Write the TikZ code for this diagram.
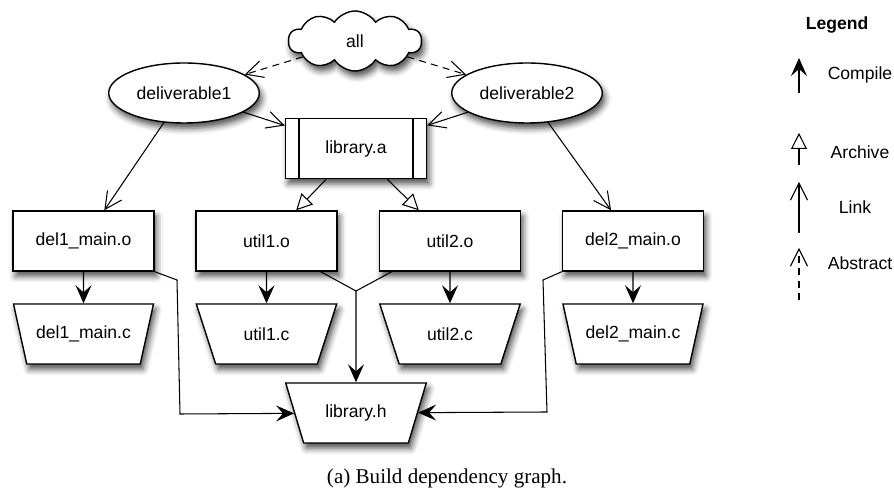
\documentclass[tikz,border=0pt]{standalone}
\usepackage{fontspec}
\setmainfont{Liberation Sans}
\newfontfamily\captionfont{Liberation Serif}
\usetikzlibrary{arrows.meta,shapes.geometric,shapes.symbols,shadows.blur}

\begin{document}
\begin{tikzpicture}[x=0.02cm, y=-0.02cm,
		every node/.style={font=\fontsize{10}{12}\selectfont},
		soft/.style={blur shadow={shadow xshift=1.5pt, shadow yshift=-3pt, shadow blur radius=3.5pt, shadow opacity=70}},
		obj/.style={draw, fill=white, line width=0.8pt, minimum width=2.82cm, minimum height=1.2cm, soft},
		src/.style={obj, trapezium, shape border rotate=180, trapezium left angle=66, trapezium right angle=66, trapezium stretches=true},
		target/.style={obj, ellipse, minimum width=2.84cm},
		compile/.style={line width=0.6pt, -{Stealth[length=3.6mm,width=3.2mm,inset=1.4mm]}},
		archive/.style={line width=0.6pt, -{Triangle[open,fill=white,length=3.2mm,width=3.2mm]}},
		link/.style={line width=0.6pt, -{Straight Barb[length=3.4mm,width=3.4mm]}},
		abstract/.style={link, dash pattern=on 4pt off 3pt}]
			\useasboundingbox (0,0) rectangle (894,499);
			% targets
			\node[cloud, cloud puffs=10, cloud puff arc=115, aspect=2.3, draw, fill=white, line width=0.8pt, minimum width=2.66cm, minimum height=1.2cm, soft] (all) at (355,41) {all};
			\node[target] (del1) at (184,93) {deliverable1};
			\node[target] (del2) at (527,93) {deliverable2};
			\node[obj] (liba) at (356,148.5) {library.a};
			\draw[line width=0.8pt] ([xshift=0.28cm]liba.north west) -- ([xshift=0.28cm]liba.south west);
			\draw[line width=0.8pt] ([xshift=-0.28cm]liba.north east) -- ([xshift=-0.28cm]liba.south east);
			% objects
			\node[obj] (del1o) at (83.5,241) {del1\_main.o};
			\node[obj] (util1o) at (266.5,241) {util1.o};
			\node[obj] (util2o) at (450,241) {util2.o};
			\node[obj] (del2o) at (633,241) {del2\_main.o};
			% sources
			\node[src] (del1c) at (83.5,334) {del1\_main.c};
			\node[src] (util1c) at (266.5,334) {util1.c};
			\node[src] (util2c) at (450,334) {util2.c};
			\node[src] (del2c) at (633,334) {del2\_main.c};
			\node[src] (libh) at (356,413) {library.h};
			% dependencies
			\draw[abstract] (all) -- (del1);
			\draw[abstract] (all) -- (del2);
			\draw[link] (del1) -- (liba);
			\draw[link] (del2) -- (liba);
			\draw[link] (del1) -- (del1o);
			\draw[link] (del2) -- (del2o);
			\draw[archive] (liba) -- (util1o);
			\draw[archive] (liba) -- (util2o);
			\foreach \o/\c in {del1o/del1c, util1o/util1c, util2o/util2c, del2o/del2c}
				\draw[compile] (\o) -- (\c);
			\coordinate (junc) at (356,291);
			\draw[line width=0.6pt] ([xshift=-0.34cm]util1o.south east) -- (junc) -- ([xshift=0.26cm]util2o.south west);
			\draw[compile] (junc) -- (libh);
			\draw[compile] (del1o.south east) -- (177,280) -- (180,414) -- (libh);
			\draw[compile] (del2o.south west) -- (543,280) -- (547,412) -- (libh);
			% legend
			\node[font=\bfseries\fontsize{10}{12}\selectfont] (legend) at (837,25) {Legend};
			\node (lcompile) at (860,75) {Compile};
			\node (larchive) at (860,152) {Archive};
			\node (llink) at (855,207) {Link};
			\node (labstract) at (860,263) {Abstract};
			\draw[compile] (799,93) -- (799,58);
			\draw[archive] (799,165) -- (799,133);
			\draw[link] (799,233) -- (799,182);
			\draw[abstract] (799,300) -- (799,248);
			\node[font=\captionfont\fontsize{12}{14}\selectfont] (caption) at (447,478) {(a) Build dependency graph.};
		\end{tikzpicture}
\end{document}
